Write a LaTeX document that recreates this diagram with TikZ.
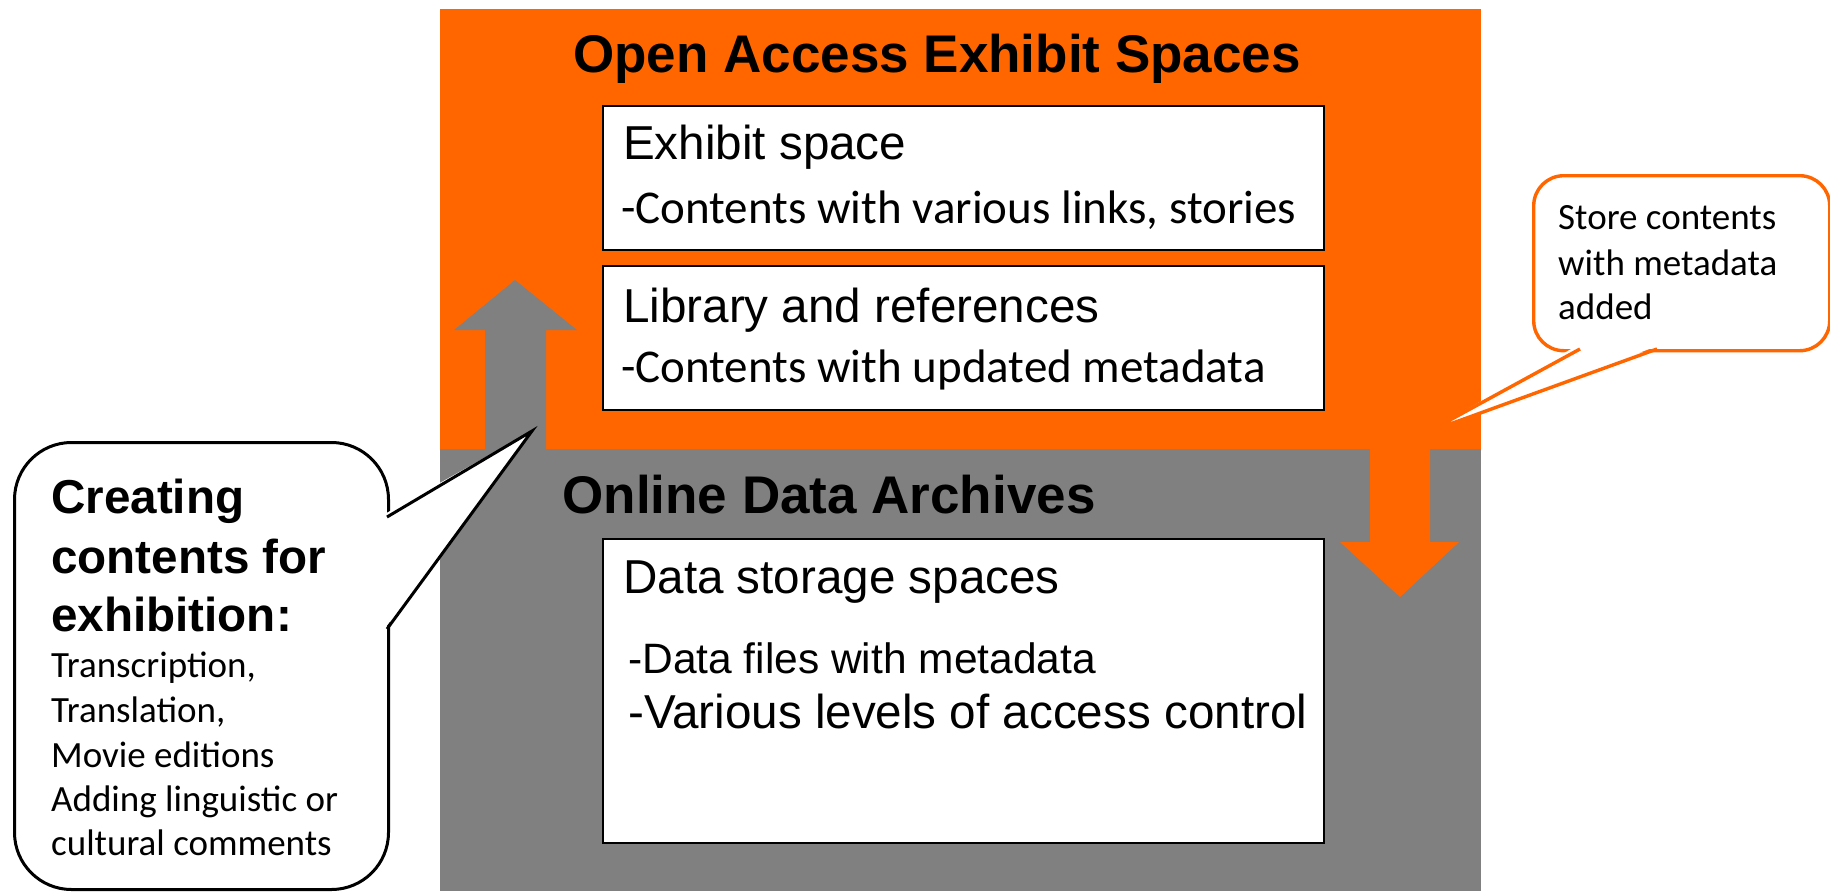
\documentclass[tikz,border=0pt]{standalone}
\usepackage{fontspec}
\setmainfont{Liberation Sans}
\newfontfamily\calibri{Carlito}
\definecolor{oaorange}{HTML}{FF6600}
\definecolor{oagray}{HTML}{808080}
\begin{document}
\begin{tikzpicture}[x=1pt,y=-1pt,
  box/.style={draw=black,line width=2pt,fill=white,inner sep=0pt,anchor=north west},
  txt/.style={anchor=base west,inner sep=0pt},
  big/.style={font=\fontsize{47.6}{57}\selectfont},
  cal/.style={font=\calibri\fontsize{47}{57}\selectfont},
  small/.style={font=\calibri\fontsize{37}{44}\selectfont},
  head/.style={font=\bfseries\fontsize{53}{64}\selectfont},
  bhead/.style={font=\bfseries\fontsize{47.6}{55}\selectfont},
  callout/.style={fill=white,rounded corners=#1,inner sep=0pt,anchor=north west}]
\useasboundingbox (0,0) rectangle (1830,891);
% background regions
\fill[oaorange] (440,9) rectangle (1481,449);
\fill[oagray] (440,449) rectangle (1481,891);
% up arrow (gray)
\fill[oagray] (485,450) -- (485,330) -- (454,330) -- (515,280) -- (577,330) -- (546,330) -- (546,450) -- cycle;
% down arrow (orange)
\fill[oaorange] (1370,448) -- (1370,542) -- (1340,542) -- (1400,597) -- (1459,542) -- (1430,542) -- (1430,448) -- cycle;
% titles
\node[head,anchor=base,inner sep=0pt] (t1) at (937,72) {Open Access Exhibit Spaces};
\node[head,anchor=base,inner sep=0pt] (t2) at (829,513) {Online Data Archives};
% boxes
\node[box,minimum width=721pt,minimum height=144pt] (exh) at (602,105) {};
\node[box,minimum width=721pt,minimum height=144pt] (lib) at (602,265) {};
\node[box,minimum width=721pt,minimum height=304pt] (dat) at (602,538) {};
\node[txt,big] (e1) at (623,159) {Exhibit space};
\node[txt,cal] (e2) at (621,223) {-Contents with various links, stories};
\node[txt,big] (l1) at (623,322) {Library and references};
\node[txt,cal] (l2) at (621,382) {-Contents with updated metadata};
\node[txt,big] (d1) at (623,593) {Data storage spaces};
\node[txt,font=\fontsize{42.5}{50}\selectfont] (d2) at (628,673) {-Data files with metadata};
\node[txt,big] (d3) at (628,728) {-Various levels of access control};
% left callout
\node[callout=57pt,draw=black,line width=3pt,minimum width=374pt,minimum height=447pt] (lc) at (13,441) {};
\coordinate (ltip) at (532,431);
\coordinate (la) at (387,517);
\coordinate (lb) at (387,629);
\fill[white] (383,515) -- (ltip) -- (383,631) -- cycle;
\draw[line width=3pt] (la) -- (ltip) -- (lb);
\node[txt,bhead] (c1) at (51,513) {Creating};
\node[txt,bhead] (c2) at (51,573) {contents for};
\node[txt,bhead] (c3) at (51,631) {exhibition:};
\node[txt,small] (c4) at (51,677) {Transcription,};
\node[txt,small] (c5) at (51,722) {Translation,};
\node[txt,small] (c6) at (51,767) {Movie editions};
\node[txt,small] (c7) at (51,811) {Adding linguistic or};
\node[txt,small] (c8) at (51,855) {cultural comments};
% right callout
\node[callout=30pt,draw=oaorange,line width=3.4pt,minimum width=296pt,minimum height=175pt] (rc) at (1532,174) {};
\coordinate (rtip) at (1428,432);
\coordinate (ra) at (1580,349);
\coordinate (rb) at (1657,349);
\fill[white] (1578,345) -- (rtip) -- (1660,345) -- cycle;
\draw[oaorange,line width=3.4pt] (ra) -- (rtip) -- (rb);
\node[txt,small] (r1) at (1558,229) {Store contents};
\node[txt,small] (r2) at (1558,275) {with metadata};
\node[txt,small] (r3) at (1558,319) {added};
\end{tikzpicture}
\end{document}
